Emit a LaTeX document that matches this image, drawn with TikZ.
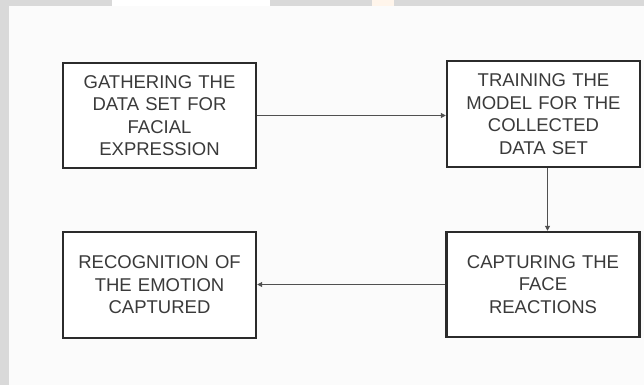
\documentclass[tikz,border=0pt]{standalone}
\usepackage{fontspec}
\setmainfont{Liberation Sans}
\usetikzlibrary{arrows.meta}
\definecolor{boxline}{HTML}{2B2B2B}
\definecolor{txt}{HTML}{3A3A3A}
\definecolor{arr}{HTML}{505050}
\definecolor{frame}{HTML}{D9D9D9}
\definecolor{page}{HTML}{FBFBFB}
\begin{document}
\begin{tikzpicture}[x=1bp,y=-1bp,
  stepbox/.style={draw=boxline,line width=2.4bp,fill=white,inner sep=0pt,
    minimum width=193bp,text width=190bp,align=center,text=txt,
    font=\fontsize{18.5bp}{22.5bp}\selectfont},
  flow/.style={draw=arr,line width=1bp,-{Triangle[length=5bp,width=5bp]}}]
\useasboundingbox (0,0) rectangle (644,385);
\fill[frame] (0,0) rectangle (644,385);
\fill[page] (9,6) rectangle (644,385);
\fill[white] (112,0) rectangle (270,6);
\fill[white!92!orange] (372,0) rectangle (394,6);
\node[stepbox,minimum height=105bp] (a) at (159.5,115.5) {GATHERING THE\\DATA SET FOR\\FACIAL\\EXPRESSION};
\node[stepbox,minimum height=106bp] (b) at (543.5,114) {TRAINING THE\\MODEL FOR THE\\COLLECTED\\DATA SET};
\node[stepbox,minimum height=105bp] (c) at (543,284.5) {CAPTURING THE\\FACE\\REACTIONS};
\node[stepbox,minimum height=106bp] (d) at (159.5,285) {RECOGNITION OF\\THE EMOTION\\CAPTURED};
\coordinate (bs) at ([xshift=4bp]b.south);
\draw[flow] (a.east) -- (a.east -| b.west);
\draw[flow] (bs) -- (bs |- c.north);
\draw[flow] (c.west) -- (c.west -| d.east);
\end{tikzpicture}
\end{document}
